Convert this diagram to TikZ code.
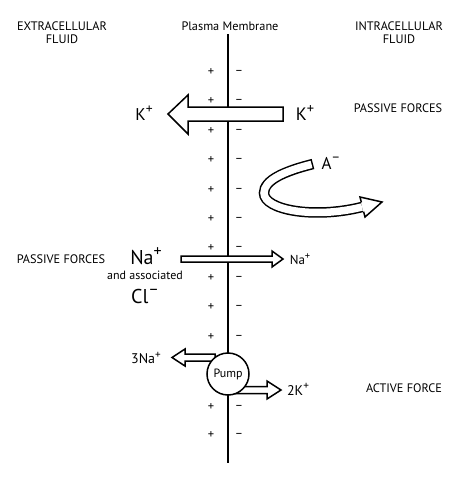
\documentclass[tikz,border=0pt]{standalone}
\usepackage{fontspec}
\setmainfont{PT Sans}
\usetikzlibrary{positioning}
\newcommand{\chg}[1]{\raisebox{0.42em}{\scalebox{0.8}{#1}}}

\begin{document}
\begin{tikzpicture}[x=1pt,y=-1pt,
  lbl/.style={font=\fontsize{12.3}{13}\selectfont, align=center, inner sep=0pt},
  sgn/.style={font=\fontsize{12.5}{12}\selectfont, inner sep=0pt},
  ion/.style={font=\fontsize{#1}{#1}\selectfont, inner sep=0pt},
  hollow/.style={fill=white, draw=black, line width=1.5pt, line join=miter}]
\useasboundingbox (0,0) rectangle (474,480);

% membrane
\coordinate (mtop) at (228,34);
\coordinate (mbot) at (228,463);
\draw[line width=2.6pt] (mtop) -- (mbot);
\foreach \y in {72,101,131,160,190,219,248,278,307,337,407,435}{
  \node[sgn] (pl\y) at (211,\y) {+};
  \node[sgn] (mi\y) at (239,\y) {\textendash};
}

% headings
\node[lbl] (ecf) at (62,33) {EXTRACELLULAR\\FLUID};
\node[lbl] (pm) at (230,26) {Plasma Membrane};
\node[lbl] (icf) at (399,33) {INTRACELLULAR\\FLUID};
\node[lbl] (pasr) at (398,108) {PASSIVE FORCES};
\node[lbl] (pasl) at (61,259) {PASSIVE FORCES};
\node[lbl] (act) at (404,388) {ACTIVE FORCE};

% K+ leaving
\filldraw[hollow] (283,107) -- (188,107) -- (188,95) -- (168,114) -- (188,134)
  -- (188,121) -- (283,121) -- cycle;
\node[ion=17] (kout) at (144,113) {K\chg{+}};
\node[ion=18] (kin) at (305,113) {K\chg{+}};

% A- turning back
\coordinate (astart) at (313,164);
\coordinate (aleft) at (264,193);
\coordinate (aend) at (362,207);
\draw[line width=10.5pt] (astart) .. controls (285,171) and (264,180) .. (aleft)
  .. controls (264,210) and (314,219) .. (aend);
\fill[white] (360,197) -- (382,202) -- (365,217) -- cycle;
\draw[white, line width=7.5pt, shorten <=1.5pt] (astart) .. controls (285,171) and (264,180) .. (aleft)
  .. controls (264,210) and (314,219) .. (aend);
\draw[line width=1.5pt, line join=miter] (361.4,202.4) -- (360,197) -- (382,202) -- (365,217) -- (363.6,211.6);
\node[ion=17] (aion) at (331,163) {A\chg{\textendash}};

% Na+ entering
\filldraw[hollow] (181,256) -- (272,256) -- (272,251) -- (283,259) -- (272,267)
  -- (272,262) -- (181,262) -- cycle;
\node[ion=20] (naout) at (146,256) {Na\chg{+}};
\node[lbl, font=\fontsize{12}{13}\selectfont] (assoc) at (145,275) {and associated};
\node[ion=20] (clout) at (145,296) {Cl\chg{\textendash}};
\node[ion=13] (nain) at (300,259) {Na\chg{+}};

% pump
\filldraw[hollow] (215,354) -- (185,354) -- (185,349) -- (172,357.5) -- (185,366)
  -- (185,361) -- (215,361) -- cycle;
\filldraw[hollow] (235,386.5) -- (267,386.5) -- (267,381) -- (281,390) -- (267,399)
  -- (267,393.5) -- (235,393.5) -- cycle;
\node[circle, draw, fill=white, line width=1.5pt, minimum size=42pt, inner sep=0pt,
  font=\fontsize{12}{12}\selectfont] (pump) at (228,374) {Pump};
\node[ion=14] (na3) at (146,358) {3Na\chg{+}};
\node[ion=14] (k2) at (298,389) {2K\chg{+}};
\end{tikzpicture}
\end{document}
